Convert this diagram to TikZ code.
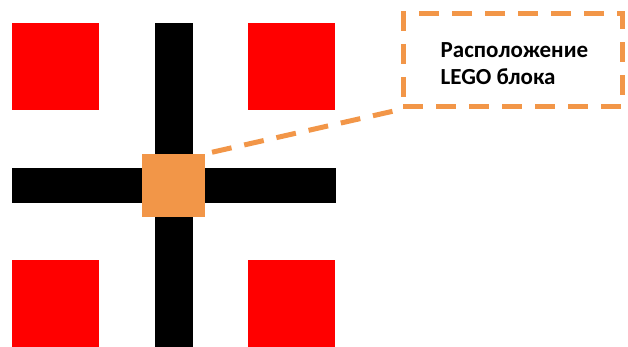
\documentclass[tikz,border=0pt]{standalone}
\usepackage{fontspec}
\setmainfont{Carlito}
\usetikzlibrary{positioning}
\definecolor{legoorange}{RGB}{242,150,72}
\definecolor{cellred}{RGB}{255,0,0}
\begin{document}
\begin{tikzpicture}[
    x=1pt, y=-1pt,
    cell/.style={rectangle, fill=cellred, minimum size=87pt, inner sep=0pt},
    bar/.style={fill=black},
    block/.style={rectangle, fill=legoorange, minimum size=63pt, inner sep=0pt},
    callout/.style={rectangle, draw=legoorange, line width=5pt, dash pattern=on 20pt off 13pt, minimum width=219pt, minimum height=93pt},
    note/.style={align=left, inner sep=0pt, font=\bfseries\fontsize{23}{27}\selectfont},
    leader/.style={draw=legoorange, line width=5pt, dash pattern=on 20pt off 13pt}
  ]
    \useasboundingbox (0,0) rectangle (628,347);
    % red cells
    \node[cell] (celltl) at (55.5,66.5) {};
    \node[cell] (celltr) at (291.5,66.5) {};
    \node[cell] (cellbl) at (55.5,303.5) {};
    \node[cell] (cellbr) at (291,303.5) {};
    % black lines
    \fill[bar] (155,23) rectangle (193,347);
    \fill[bar] (12,168) rectangle (336,203);
    \node[block] (block) at (173.5,185.5) {};
    \node[callout] (callout) at (512.5,60.5) {};
    \node[note, anchor=west] (note) at ([xshift=40pt, yshift=-3pt]callout.west) {Расположение\\LEGO блока};

    \draw[leader, shorten <=7pt] (block.north east) -- (callout.south west);
  \end{tikzpicture}
\end{document}
